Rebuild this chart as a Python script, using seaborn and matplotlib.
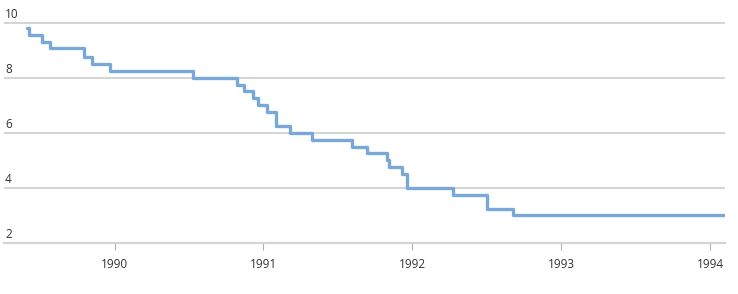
import matplotlib
matplotlib.use("Agg")
import matplotlib.pyplot as plt
import matplotlib.dates as mdates
import matplotlib.transforms as mtransforms
import seaborn as sns
import pandas as pd

# Step dates (rate changes) and target rate levels
dates = ["1989-05-31", "1989-06-06", "1989-07-07", "1989-07-27", "1989-10-18",
         "1989-11-06", "1989-12-20", "1990-07-13", "1990-10-29", "1990-11-14",
         "1990-12-07", "1990-12-19", "1991-01-09", "1991-02-01", "1991-03-08",
         "1991-04-30", "1991-08-06", "1991-09-13", "1991-10-31", "1991-11-06",
         "1991-12-06", "1991-12-20", "1992-04-09", "1992-07-02", "1992-09-04",
         "1994-02-03"]
rates = [9.8125, 9.5625, 9.3125, 9.0625, 8.75,
         8.5, 8.25, 8.0, 7.75, 7.5,
         7.25, 7.0, 6.75, 6.25, 6.0,
         5.75, 5.5, 5.25, 5.0, 4.75,
         4.5, 4.0, 3.75, 3.25, 3.0,
         3.0]
y_ticks = [2, 4, 6, 8, 10]
x_tick_years = [1990, 1991, 1992, 1993, 1994]

df = pd.DataFrame({"date": pd.to_datetime(dates), "rate": rates})

sns.set_style("white")
plt.rcParams["font.family"] = ["Open Sans", "DejaVu Sans"]

W, H = 738, 294
fig = plt.figure(figsize=(W / 100, H / 100), dpi=100)
ax = fig.add_axes([4 / W, (H - 243) / H, (725 - 4) / W, 243 / H])

grid_c = "#d4d4d4"
for v in y_ticks[1:]:
    ax.axhline(v, color=grid_c, lw=1.4, zorder=1)

sns.lineplot(data=df, x="date", y="rate", ax=ax, drawstyle="steps-post",
             color="#78a7d9", lw=2.4, estimator=None, zorder=3)

ax.set_ylim(2, 10.82)
ax.set_xlim(pd.Timestamp("1989-04-05"), pd.Timestamp("1994-02-06"))

for s in ["top", "right", "left"]:
    ax.spines[s].set_visible(False)
ax.spines["bottom"].set_color(grid_c)
ax.spines["bottom"].set_linewidth(1.6)

ax.set_yticks([])
ax.set_xticks([pd.Timestamp(f"{y}-01-01") for y in x_tick_years])
ax.set_xticklabels([str(y) for y in x_tick_years])
ax.tick_params(axis="x", length=5, width=0.8, color="#b0b0b0", pad=5.5,
               labelsize=8.5, labelcolor="#333333", bottom=True, direction="out")
ax.set_xlabel("")
ax.set_ylabel("")

trans = mtransforms.blended_transform_factory(fig.transFigure, ax.transData)
for v in y_ticks:
    ax.annotate(str(v), xy=(5 / W, v), xycoords=trans, xytext=(0, 1.2),
                textcoords="offset points", ha="left", va="bottom",
                fontsize=8.5, color="#333333")

fig.savefig("out.png", dpi=100)
